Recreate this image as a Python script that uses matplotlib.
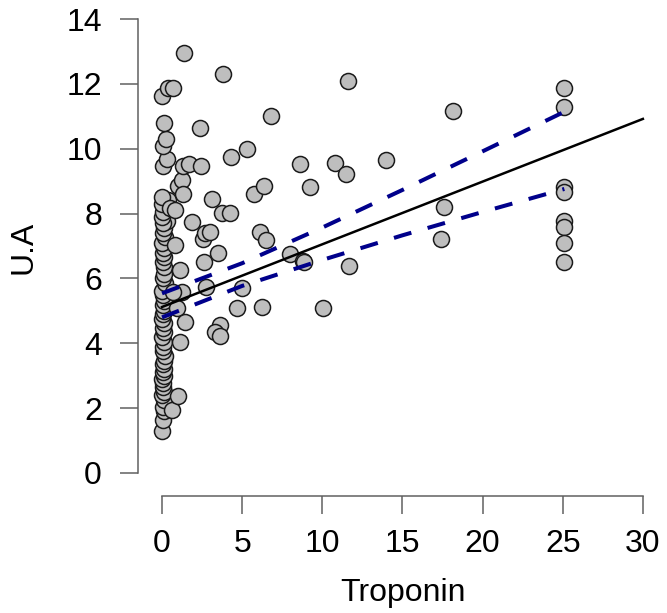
import matplotlib
matplotlib.use("Agg")
import matplotlib.pyplot as plt

plt.rcParams['font.family'] = ['Liberation Sans', 'DejaVu Sans']

# troponin (x) vs U.A (y)
tropo = [0.00, 0.06, 0.12, 0.05, 0.10, 0.02, 0.15, 0.05, 0.08, 0.00,
         0.12, 0.05, 0.10, 0.03, 0.12, 0.19, 0.05, 0.08, 0.12, 0.02,
         0.10, 0.05, 0.12, 0.00, 0.08, 0.15, 0.06, 0.10, 0.06, 0.02,
         0.19, 0.05, 0.12, 0.12, 0.03, 0.10, 0.05, 0.15, 0.00, 0.19,
         0.06, 0.10, 0.31, 0.05, 0.00, 0.25, 0.08, 0.37, 0.00, 0.00,
         0.06, 0.31, 0.06, 0.25, 0.12, 0.00, 0.37, 0.69,
         0.62, 1.00, 0.94, 1.43, 1.12, 1.12, 1.25, 0.69, 0.81, 0.50,
         0.81, 1.00, 1.25, 1.31, 1.31, 1.68, 1.87, 1.37,
         2.37, 2.43, 2.62, 2.56, 2.68, 3.00, 3.12, 3.50, 3.74, 4.24,
         3.80, 2.74, 3.62, 3.30, 3.62, 4.30, 4.68, 5.00, 5.30, 5.74,
         6.10, 6.24, 6.36, 6.50, 6.80, 8.00, 8.60, 8.80, 8.86, 9.23,
         10.05, 10.80, 11.50, 11.60, 11.67, 14.00, 17.40, 17.60, 18.15,
         25.10, 25.10, 25.10, 25.10, 25.10, 25.10, 25.10, 25.10]
ua = [1.30, 1.62, 1.90, 2.05, 2.25, 2.40, 2.50, 2.65, 2.78, 2.90,
      3.00, 3.12, 3.22, 3.35, 3.45, 3.60, 3.75, 3.90, 4.05, 4.20,
      4.35, 4.48, 4.62, 4.75, 4.90, 5.00, 5.18, 5.30, 5.49, 5.62,
      5.86, 6.00, 6.15, 6.35, 6.50, 6.65, 6.80, 6.95, 7.10, 7.28,
      7.40, 7.55, 7.77, 7.70, 7.90, 8.17, 8.05, 8.42, 8.30, 8.51,
      9.47, 9.68, 10.08, 10.30, 10.79, 11.63, 11.87, 11.87,
      1.94, 2.37, 5.09, 4.66, 4.04, 6.26, 5.58, 5.58, 7.03, 8.17,
      8.11, 8.85, 9.03, 8.60, 9.47, 9.53, 7.74, 12.95,
      10.64, 9.47, 6.50, 7.22, 7.40, 7.43, 8.45, 6.78, 8.01, 8.01,
      12.30, 5.74, 4.56, 4.35, 4.22, 9.74, 5.09, 5.70, 9.99, 8.60,
      7.43, 5.12, 8.85, 7.18, 11.00, 6.75, 9.53, 6.54, 6.50, 8.82,
      5.09, 9.56, 9.22, 12.09, 6.38, 9.65, 7.22, 8.20, 11.16,
      11.87, 11.29, 8.82, 8.66, 7.77, 7.59, 7.09, 6.51]

# fitted line and confidence band
fit_x = [0, 30]
fit_y = [5.12, 10.92]
band_x = [0, 5, 10, 15, 20, 25.1]
band_hi = [5.54, 6.47, 7.57, 8.73, 9.92, 11.14]
band_lo = [4.80, 5.77, 6.57, 7.33, 8.05, 8.76]

W, H = 667, 613
fig = plt.figure(figsize=(W / 100, H / 100), dpi=100)
ax = fig.add_axes([138 / W, (H - 496) / H, (665 - 138) / W, (496 - 9) / H])

ax.scatter(tropo, ua, s=133, facecolor='#bebebe', edgecolor='#1a1a1a',
           linewidth=1.1, zorder=2)
ax.plot(fit_x, fit_y, color='black', lw=1.8, zorder=3)
for band in (band_hi, band_lo):
    ax.plot(band_x, band, color='#00008b', lw=2.9, dashes=(4.5, 4.2), zorder=3)

ax.set_xlim(-1.5, 31.38)
ax.set_ylim(-0.71, 14.31)
ax.set_xticks([0, 5, 10, 15, 20, 25, 30])
ax.set_yticks([0, 2, 4, 6, 8, 10, 12, 14])

for s in ('top', 'right'):
    ax.spines[s].set_visible(False)
ax.spines['left'].set_bounds(0, 14)
ax.spines['bottom'].set_bounds(0, 30)
for s in ('left', 'bottom'):
    ax.spines[s].set_color('#606060')
    ax.spines[s].set_linewidth(1.1)
ax.tick_params(axis='both', length=13, width=1.1, color='#606060',
               labelsize=23, labelcolor='black')
ax.tick_params(axis='y', pad=13)
ax.tick_params(axis='x', pad=11)

fig.text(23 / W, 1 - 247 / H, 'U.A', rotation=90, ha='center', va='center', fontsize=23)
fig.text(403 / W, 1 - 593 / H, 'Troponin', ha='center', va='center', fontsize=23)

fig.savefig('out.png', dpi=100)
